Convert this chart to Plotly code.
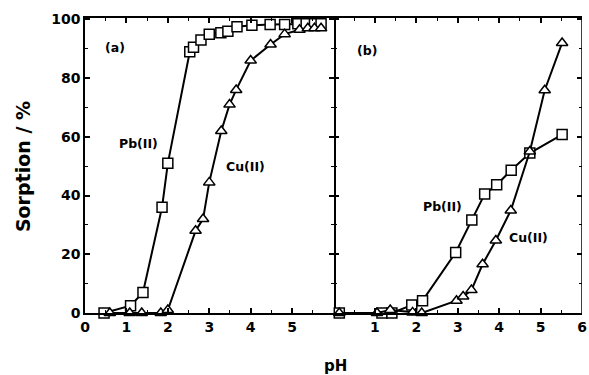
import plotly.graph_objects as go

# Panel (a)
a_pb_ph = [0.46, 1.1, 1.4, 1.86, 2.0, 2.53, 2.62, 2.8, 3.0, 3.28, 3.45, 3.67, 4.03, 4.47, 4.82, 5.14, 5.34, 5.54, 5.7]
a_pb_val = [0, 2.5, 7, 36, 51, 89, 90.5, 93, 95, 95.5, 96, 97.5, 98, 98.3, 98.3, 98.5, 98.5, 98.5, 98.5]
a_cu_ph = [0.6, 1.08, 1.37, 1.83, 2.0, 2.67, 2.85, 3.0, 3.29, 3.49, 3.65, 4.0, 4.48, 4.82, 5.18, 5.38, 5.54, 5.7]
a_cu_val = [0, 0, 0, 0, 1, 28, 32, 44.5, 62, 71, 76, 86, 91.5, 95, 96.5, 97, 97, 97]

# Panel (b)
b_pb_ph = [0.14, 1.17, 1.41, 1.89, 2.15, 2.95, 3.34, 3.65, 3.94, 4.29, 4.74, 5.52]
b_pb_val = [0, 0, 0, 2.7, 4.2, 20.6, 31.7, 40.5, 43.7, 48.6, 54.5, 60.8]
b_cu_ph = [0.14, 1.05, 1.37, 1.91, 2.13, 2.97, 3.13, 3.33, 3.6, 3.92, 4.28, 4.74, 5.1, 5.52]
b_cu_val = [0, 0, 1, 0.2, 0, 4.2, 5.6, 7.8, 16.6, 24.7, 34.9, 55, 75.9, 92]

a_xticks = [0, 1, 2, 3, 4, 5]
b_xticks = [1, 2, 3, 4, 5, 6]
y_ticks = [0, 20, 40, 60, 80, 100]

FONT = "DejaVu Sans"

def trace(x, y, sym, xa, ya, size):
    return go.Scatter(
        x=x, y=y, mode="lines+markers", xaxis=xa, yaxis=ya,
        line=dict(color="black", width=2),
        marker=dict(symbol=sym, size=size, color="white",
                    line=dict(color="black", width=1.5)),
        showlegend=False, cliponaxis=False,
    )

fig = go.Figure()
fig.add_trace(trace(a_pb_ph, a_pb_val, "square", "x", "y", 10))
fig.add_trace(trace(a_cu_ph, a_cu_val, "triangle-up", "x", "y", 10))
fig.add_trace(trace(b_pb_ph, b_pb_val, "square", "x2", "y2", 10))
fig.add_trace(trace(b_cu_ph, b_cu_val, "triangle-up", "x2", "y2", 10))

tickfont = dict(family=FONT, size=14, color="black", weight="bold")
common_x = dict(range=[0, 6], showline=True, linecolor="black", linewidth=1.5,
                mirror="ticks", ticks="inside", ticklen=5, tickwidth=1.5, tickcolor="black",
                showgrid=False, zeroline=False, tickfont=tickfont, ticklabeloverflow="allow",
                minor=dict(ticks="inside", ticklen=3, dtick=0.5, tickcolor="black", tickwidth=1))
common_y = dict(range=[0, 100.5], linecolor="black", linewidth=1.5,
                mirror="ticks", ticks="inside", ticklen=5, tickwidth=1.5, tickcolor="black",
                showgrid=False, zeroline=False, tickfont=tickfont,
                tickvals=y_ticks,
                minor=dict(ticks="inside", ticklen=3, dtick=10, tickcolor="black", tickwidth=1))

fig.update_layout(
    width=589, height=375,
    margin=dict(l=85, r=2, t=18, b=62),
    paper_bgcolor="white", plot_bgcolor="white",
    xaxis=dict(domain=[0, 0.5], tickvals=a_xticks, anchor="y", **common_x),
    xaxis2=dict(domain=[0.5, 1], tickvals=b_xticks, anchor="y2", **common_x),
    yaxis=dict(anchor="x", showline=True, **common_y),
    yaxis2=dict(anchor="x2", showline=False, showticklabels=False, **common_y),
)

# panel (b) right border line
fig.add_shape(type="line", xref="x2", yref="paper", x0=6, x1=6, y0=0, y1=1,
              line=dict(color="black", width=1.5))

lab = dict(family=FONT, size=12.5, color="black", weight="bold")
anns = [
    ("(a)", 0.72, 90.6, "x", "y"),
    ("Pb(II)", 1.3, 57.7, "x", "y"),
    ("Cu(II)", 3.88, 50, "x", "y"),
    ("(b)", 0.81, 89.5, "x2", "y2"),
    ("Pb(II)", 2.63, 36.2, "x2", "y2"),
    ("Cu(II)", 4.7, 25.8, "x2", "y2"),
]
for t, x, y, xr, yr in anns:
    fig.add_annotation(text=t, x=x, y=y, xref=xr, yref=yr, showarrow=False, font=lab)

fig.add_annotation(text="pH", x=(338 - 85) / 502, y=(313 - 366) / 295, xref="paper", yref="paper",
                   showarrow=False, xanchor="center", yanchor="middle",
                   font=dict(family=FONT, size=15, color="black", weight="bold"))
fig.add_annotation(text="Sorption / %", x=(22.5 - 85) / 502, y=(313 - 167) / 295, xref="paper", yref="paper",
                   showarrow=False, textangle=-90, xanchor="center", yanchor="middle",
                   font=dict(family=FONT, size=19, color="black", weight="bold"))

fig.write_html("out.html")
